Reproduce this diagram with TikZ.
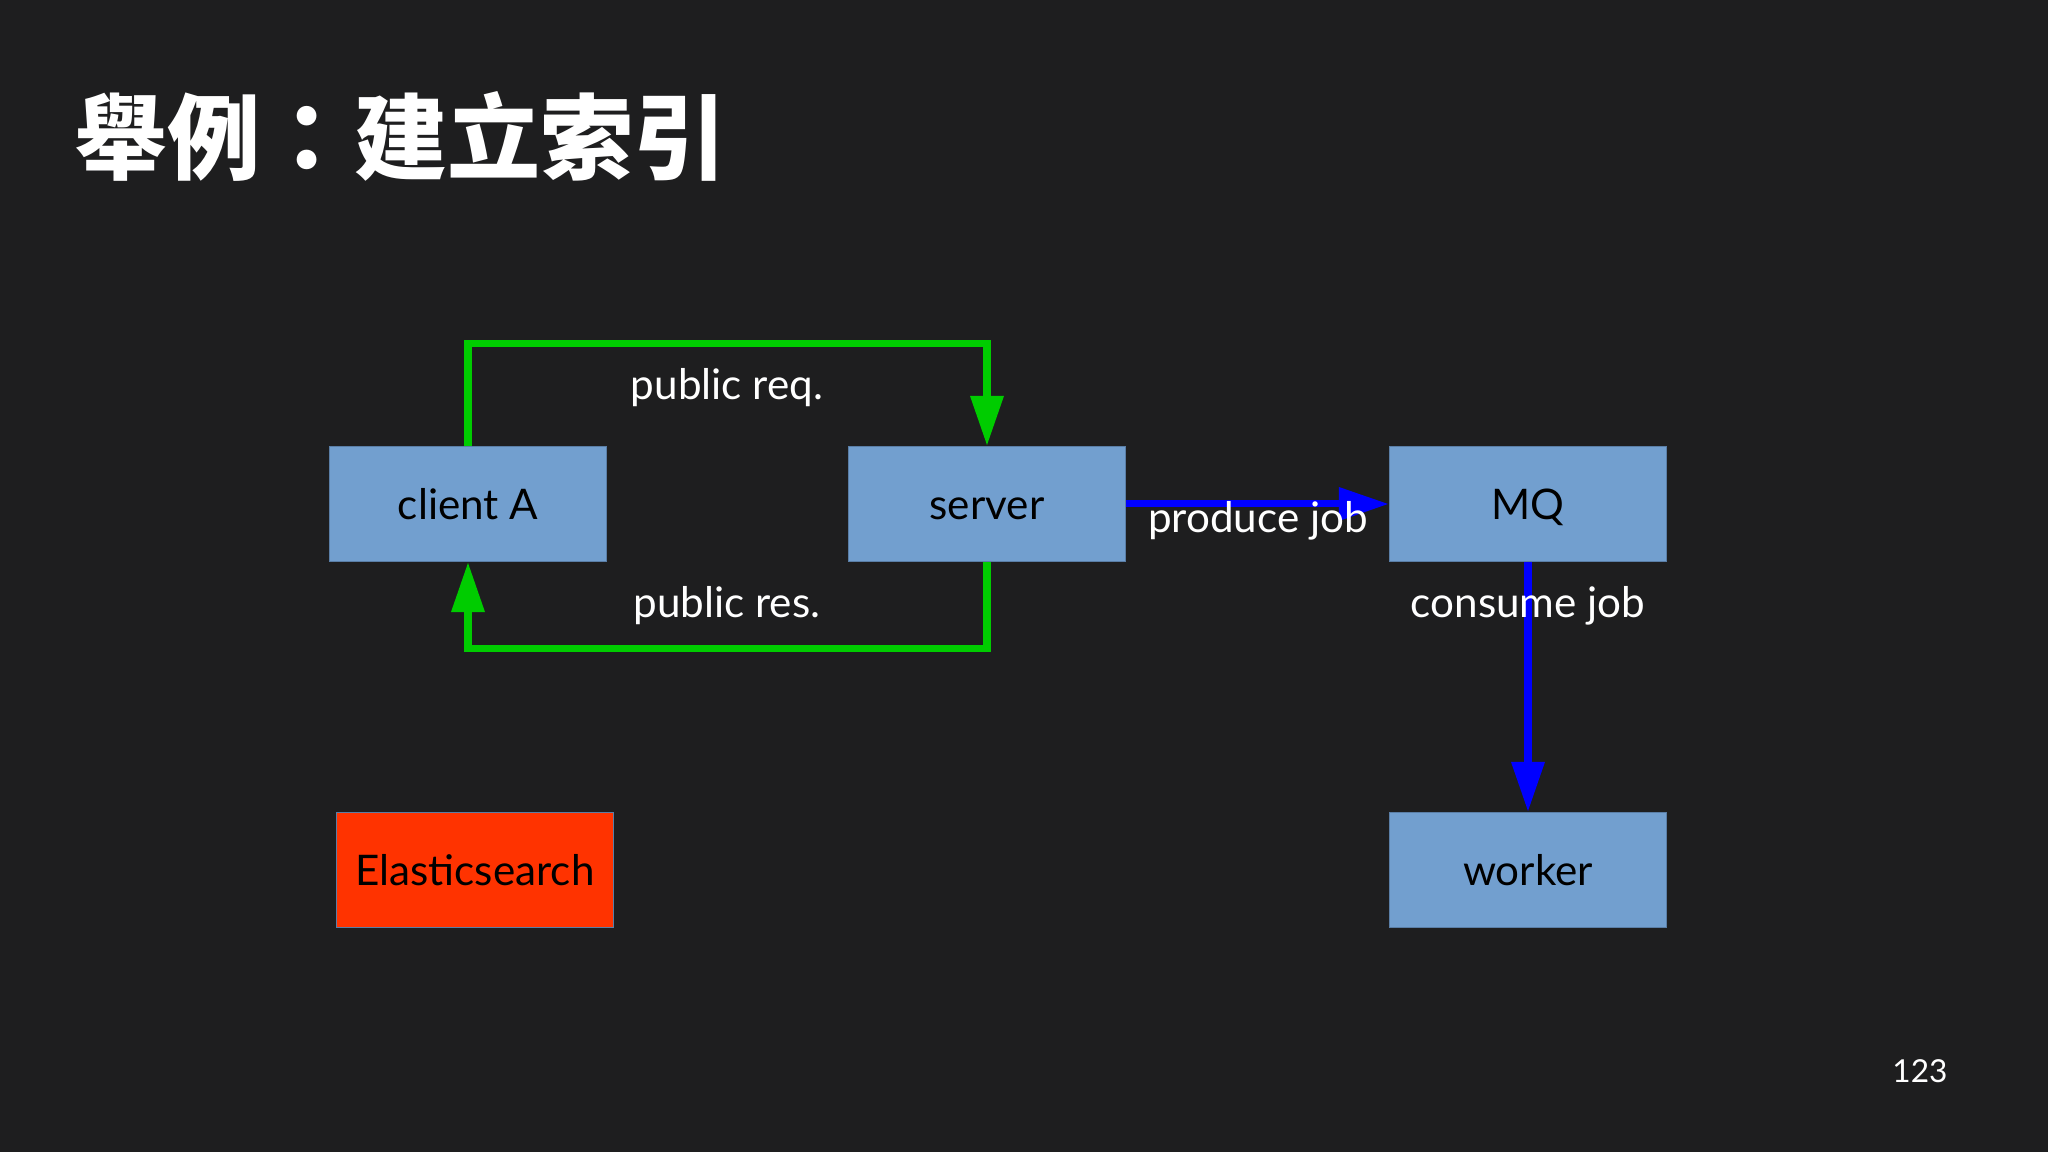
\documentclass[tikz,border=0pt]{standalone}
\usepackage{fontspec}
\setmainfont{Lato}
\newfontfamily\cjkfont{Noto Sans CJK TC}
\usepackage{tikz}
\usetikzlibrary{arrows.meta, positioning, calc}
\definecolor{slidebg}{HTML}{1E1E1F}
\definecolor{boxblue}{HTML}{729FCF}
\definecolor{boxedge}{HTML}{5A7EA6}
\definecolor{esred}{HTML}{FF3300}
\definecolor{flowgreen}{HTML}{00CC00}
\definecolor{flowblue}{HTML}{0000FF}
\tikzset{
    box/.style ={rectangle, fill=boxblue, draw=boxedge, line width=0.4pt,
                 minimum width=2.77cm, minimum height=1.15cm, inner sep=0pt,
                 text height=0.32cm, text depth=0pt,
                 font=\fontsize{12}{14}\selectfont},
    lbl/.style = {text=white, inner sep=0pt, anchor=base,
                  font=\fontsize{12}{14}\selectfont},
    greenflow/.style = {draw=flowgreen, line width=2pt,
                  -{Triangle[length=0.5cm, width=0.32cm]}},
    blueflow/.style = {draw=flowblue, line width=2pt,
                  -{Triangle[length=0.5cm, width=0.32cm]}}
    }

\begin{document}
\begin{tikzpicture}
    % slide background
    \fill[slidebg] (0,0) rectangle (20.48,11.52);
    \useasboundingbox (0,0) rectangle (20.48,11.52);

    \node[text=white, anchor=base west, inner sep=0pt,
          font=\cjkfont\bfseries\fontsize{26.5}{30}\selectfont]
          (title) at (0.74,9.79) {舉例：建立索引};

    \node[box] (client) at (4.68,6.48) {client A};
    \node[box] (server) at (9.87,6.48) {server};
    \node[box] (mq) at (15.28,6.48) {MQ};
    \node[box, fill=esred] (es) at (4.75,2.82) {Elasticsearch};
    \node[box] (worker) at (15.28,2.82) {worker};

    % corners of the green loop
    \coordinate (reqtop) at (7.27,8.085);
    \coordinate (resbot) at (7.27,5.03);

    \draw[greenflow] (client.north) |- (reqtop) -| (server.north);
    \draw[greenflow] (server.south) |- (resbot) -| (client.south);
    \draw[blueflow] (server.east) -- (mq.west);
    \draw[blueflow] (mq.south) -- (worker.north);

    \node[lbl] (req) at (7.27,7.52) {public req.};
    \node[lbl] (res) at (7.27,5.34) {public res.};
    \node[lbl] (produce) at (12.58,6.19) {produce job};
    \node[lbl] (consume) at (15.28,5.34) {consume job};

    \node[lbl, font=\fontsize{9}{11}\selectfont] (page) at (19.20,0.69) {123};
\end{tikzpicture}
\end{document}
